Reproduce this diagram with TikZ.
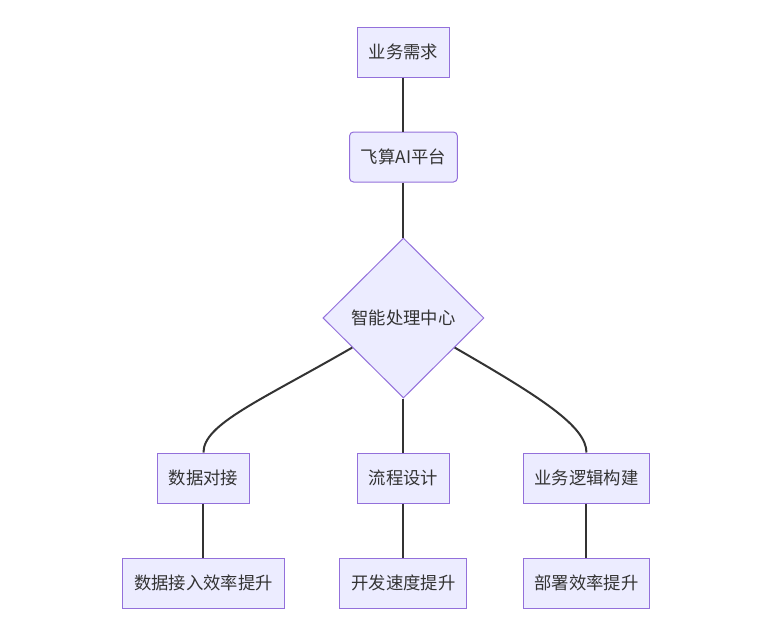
\documentclass[tikz,border=0pt]{standalone}
\usepackage{fontspec}
\setmainfont{Noto Sans CJK SC}
\usepackage{tikz}
\usetikzlibrary{positioning, shapes.geometric}

\definecolor{boxfill}{HTML}{ECECFF}
\definecolor{boxline}{HTML}{9370DB}
\definecolor{linkline}{HTML}{333333}

\begin{document}
\begin{tikzpicture}[
    node distance=78.75pt,
    box/.style={draw=boxline, fill=boxfill, text=linkline, line width=0.75pt, minimum height=37.5pt, inner xsep=8.6pt, font=\fontsize{13pt}{15pt}\selectfont},
    roundbox/.style={box, rounded corners=3pt},
    decision/.style={draw=boxline, fill=boxfill, text=linkline, line width=0.75pt, diamond, minimum width=120.75pt, minimum height=120pt, inner sep=0pt, font=\fontsize{13pt}{15pt}\selectfont},
    link/.style={draw=linkline, line width=1.5pt}
]
    \useasboundingbox (-302.6pt,39pt) rectangle (277.9pt,-425.25pt);

    % Define the main column
    \node[box] (need) {业务需求};
    \node[roundbox] (platform) [below of=need] {飞算AI平台};
    \node[decision] (core) [below of=platform, yshift=-42pt] {智能处理中心};
    \node[box] (flow) [below of=core, yshift=-41.25pt] {流程设计};
    \node[box] (speed) [below of=flow] {开发速度提升};

    % Side branches
    \node[box] (data) [left of=flow, xshift=-71.25pt] {数据对接};
    \node[box] (logic) [right of=flow, xshift=58.5pt] {业务逻辑构建};
    \node[box] (access) [below of=data] {数据接入效率提升};
    \node[box] (deploy) [below of=logic] {部署效率提升};

    % Connect the nodes
    \path[link]
        (need) edge (platform)
        (platform) edge (core)
        (core) edge (flow)
        (core) edge[out=-150, in=90, out looseness=1.5, in looseness=0.4] (data)
        (core) edge[out=-30, in=90, out looseness=1.5, in looseness=0.4] (logic)
        (data) edge (access)
        (flow) edge (speed)
        (logic) edge (deploy);
\end{tikzpicture}
\end{document}
